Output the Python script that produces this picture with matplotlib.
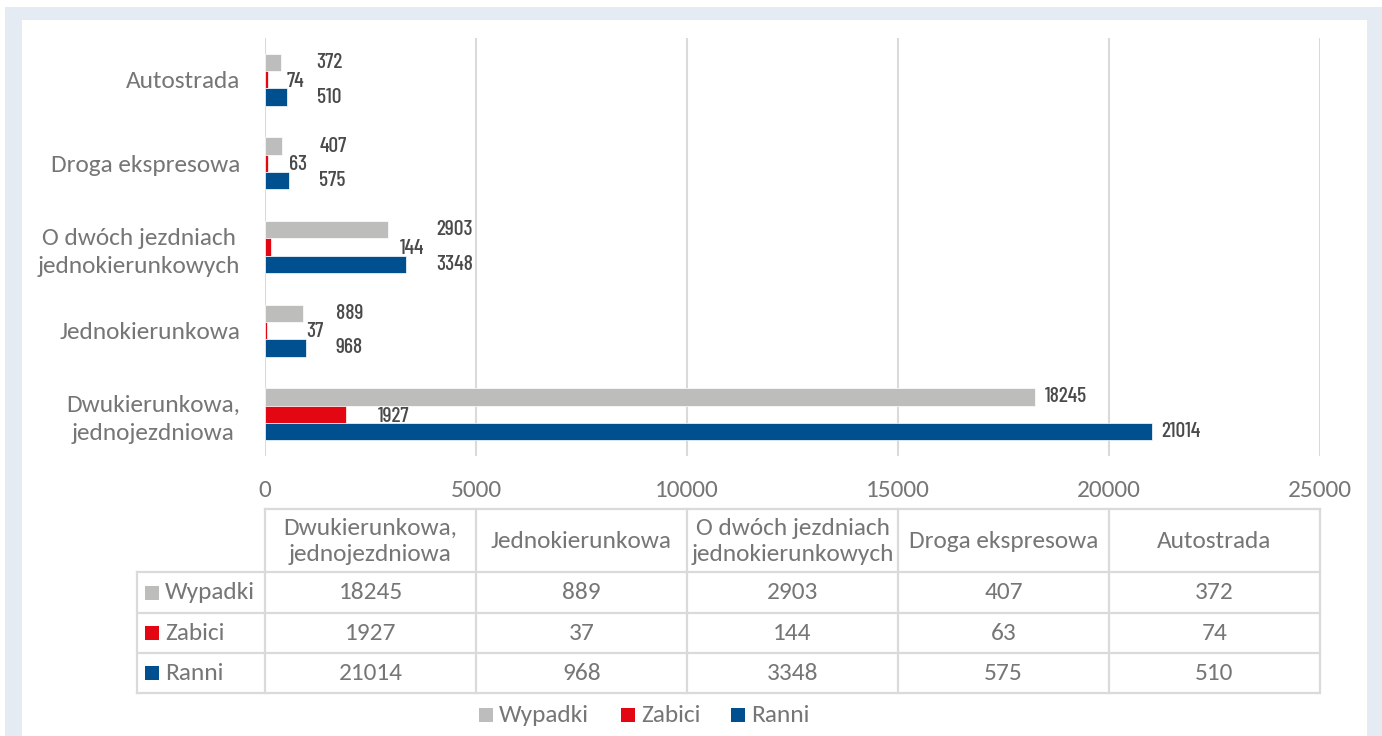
import matplotlib.pyplot as plt
from matplotlib.patches import Rectangle
import numpy as np

# Dane
kategorie = ["Dwukierunkowa,\njednojezdniowa", "Jednokierunkowa",
             "O dwóch jezdniach\njednokierunkowych", "Droga ekspresowa", "Autostrada"]
serie = ["Wypadki", "Zabici", "Ranni"]
wypadki = [18245, 889, 2903, 407, 372]
zabici = [1927, 37, 144, 63, 74]
ranni = [21014, 968, 3348, 575, 510]
kolory = ["#bdbdbc", "#e30613", "#00508f"]
xticki = [0, 5000, 10000, 15000, 20000, 25000]

tekst = "#767676"
etykieta = "#4a4a4a"
siatka = "#dadada"
font_txt = ["Carlito", "Lato", "DejaVu Sans"]
font_lab = ["Barlow Condensed", "Roboto Condensed", "Abel", "DejaVu Sans"]
rozmiar = 18.3
rozmiar_lab = 15.5

W, H = 1382, 736
fig = plt.figure(figsize=(W / 100, H / 100), dpi=100)

# tlo w pikselach
bg = fig.add_axes([0, 0, 1, 1], zorder=0)
bg.set_xlim(0, W)
bg.set_ylim(H, 0)
bg.axis("off")
bg.add_patch(Rectangle((5, 7), W - 5, H - 7, color="#e4ebf2", lw=0))
bg.add_patch(Rectangle((22, 20), 1367 - 22, H - 20, color="white", lw=0))

# wykres glowny
x0, x1 = 265, 1320
y0, y1 = 38, 456
ax = fig.add_axes([x0 / W, 1 - y1 / H, (x1 - x0) / W, (y1 - y0) / H], zorder=1)
ax.patch.set_alpha(0)

y = np.arange(len(kategorie))
h = 0.207
ax.barh(y + h, wypadki, h, color=kolory[0], edgecolor="white", lw=0.5, zorder=2)
ax.barh(y, zabici, h, color=kolory[1], edgecolor="white", lw=0.5, zorder=2)
ax.barh(y - h, ranni, h, color=kolory[2], edgecolor="white", lw=0.5, zorder=2)

ax.set_xlim(0, 25000)
ax.set_ylim(-0.5, len(kategorie) - 0.5)
ax.set_xticks(xticki)
ax.set_yticks(y)
ax.set_yticklabels(kategorie)
for t in ax.get_yticklabels():
    t.set_multialignment("center")
    t.set_linespacing(1.4)
ax.tick_params(length=0, colors=tekst, labelsize=rozmiar)
ax.tick_params(axis="x", pad=17)
ax.tick_params(axis="y", pad=18)
for t in ax.get_xticklabels() + ax.get_yticklabels():
    t.set_family(font_txt)
for s in ax.spines.values():
    s.set_visible(False)
ax.grid(axis="x", color=siatka, lw=1.5)
ax.set_axisbelow(True)

# etykiety danych
px = 0.72  # piksel -> punkt
skala = (x1 - x0) / 25000
styl = dict(textcoords="offset points", va="center", fontsize=rozmiar_lab,
            color=etykieta, family=font_lab, fontweight="medium")
for i in range(len(kategorie)):
    kg = wypadki[i] * skala
    kb = ranni[i] * skala
    kz = zabici[i] * skala
    if wypadki[i] > 10000:
        xg, xb = kg + 10, kb + 9
        ax.annotate(str(zabici[i]), (0, i), xytext=((kz + 32) * px, -2), ha="left", **styl)
    else:
        xg = xb = max(kg, kb) + 30
        ax.annotate(str(zabici[i]), (0, i), xytext=((xg - 12) * px, -1), ha="right", **styl)
    ax.annotate(str(wypadki[i]), (0, i + h), xytext=(xg * px, 0), ha="left", **styl)
    ax.annotate(str(ranni[i]), (0, i - h), xytext=(xb * px, 0), ha="left", **styl)

# tabela danych
tx0 = 137
wiersze = [509, 572, 613, 653, 693]
kol = np.linspace(x0, x1, len(kategorie) + 1)
lw_t = 1.6
bg.plot([x0, x1], [wiersze[0]] * 2, color=siatka, lw=lw_t)
for yy in wiersze[1:]:
    bg.plot([tx0, x1], [yy, yy], color=siatka, lw=lw_t)
bg.plot([tx0, tx0], [wiersze[1], wiersze[-1]], color=siatka, lw=lw_t)
for xx in kol:
    bg.plot([xx, xx], [wiersze[0], wiersze[-1]], color=siatka, lw=lw_t)

for j, kat in enumerate(kategorie):
    cx = (kol[j] + kol[j + 1]) / 2
    bg.text(cx, (wiersze[0] + wiersze[1]) / 2 + 1, kat, ha="center", va="center",
            fontsize=rozmiar, color=tekst, family=font_txt, linespacing=1.3)

wartosci = [wypadki, zabici, ranni]
for r, nazwa in enumerate(serie):
    cy = (wiersze[r + 1] + wiersze[r + 2]) / 2
    bg.add_patch(Rectangle((145, cy - 7), 14, 14, color=kolory[r], lw=0))
    bg.text(165, cy, nazwa, ha="left", va="center", fontsize=rozmiar, color=tekst, family=font_txt)
    for j in range(len(kategorie)):
        cx = (kol[j] + kol[j + 1]) / 2
        bg.text(cx, cy, str(wartosci[r][j]), ha="center", va="center",
                fontsize=rozmiar, color=tekst, family=font_txt)

# legenda
leg_x = [479, 621, 731]
for r, nazwa in enumerate(serie):
    bg.add_patch(Rectangle((leg_x[r], 708), 14, 14, color=kolory[r], lw=0))
    bg.text(leg_x[r] + 20, 715, nazwa, ha="left", va="center", fontsize=rozmiar,
            color=tekst, family=font_txt)

fig.savefig("out.png", dpi=100)
